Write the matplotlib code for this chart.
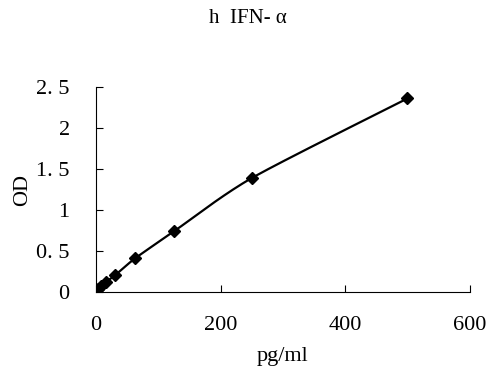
import numpy as np
import matplotlib
matplotlib.use("Agg")
import matplotlib.pyplot as plt

# standard curve, pg/ml vs OD
conc = [0, 3.9, 7.8, 15.6, 31.25, 62.5, 125, 250, 500]
od = [0.0, 0.04, 0.07, 0.12, 0.21, 0.41, 0.74, 1.39, 2.36]
xticks = [0, 200, 400, 600]
yticks = [0, 0.5, 1, 1.5, 2, 2.5]
ytick_labels = ["0", "0. 5", "1", "1. 5", "2", "2. 5"]


def smooth_curve(x, y, n=30, k=8):
    # smoothed line: cardinal bezier through points
    x = np.asarray(x, float)
    y = np.asarray(y, float)
    px, py = [], []
    for i in range(len(x) - 1):
        x0, y0 = (x[i - 1], y[i - 1]) if i > 0 else (x[i], y[i])
        x3, y3 = (x[i + 2], y[i + 2]) if i + 2 < len(x) else (x[i + 1], y[i + 1])
        x1, y1, x2, y2 = x[i], y[i], x[i + 1], y[i + 1]
        c1x, c1y = x1 + (x2 - x0) / k, y1 + (y2 - y0) / k
        c2x, c2y = x2 - (x3 - x1) / k, y2 - (y3 - y1) / k
        t = np.linspace(0, 1, n)
        px.extend((1 - t) ** 3 * x1 + 3 * (1 - t) ** 2 * t * c1x + 3 * (1 - t) * t ** 2 * c2x + t ** 3 * x2)
        py.extend((1 - t) ** 3 * y1 + 3 * (1 - t) ** 2 * t * c1y + 3 * (1 - t) * t ** 2 * c2y + t ** 3 * y2)
    return px, py


plt.rcParams['font.family'] = ['Liberation Serif', 'DejaVu Serif']

fig = plt.figure(figsize=(4.95, 3.9), dpi=100)
ax = fig.add_axes([0.194, 0.251, 0.755, 0.526])

sx, sy = smooth_curve(conc, od)
ax.plot(sx, sy, color='black', lw=1.6)
ax.plot(conc, od, 'D', color='black', ms=6.5)

ax.set_xlim(0, 600)
ax.set_ylim(0, 2.5)
ax.set_xticks(xticks)
ax.set_yticks(yticks)
ax.set_yticklabels(ytick_labels)
ax.tick_params(direction='in', length=5, labelsize=16)
ax.tick_params(axis='x', pad=17)
ax.tick_params(axis='y', pad=19)
ax.spines['top'].set_visible(False)
ax.spines['right'].set_visible(False)
ax.set_xlabel("pg/ml", fontsize=16, labelpad=9)
ax.set_ylabel("OD", fontsize=16, labelpad=3)
fig.text(0.5, 0.953, "h  IFN- α", ha='center', va='center', fontsize=15)

fig.savefig("out.png", dpi=100)
